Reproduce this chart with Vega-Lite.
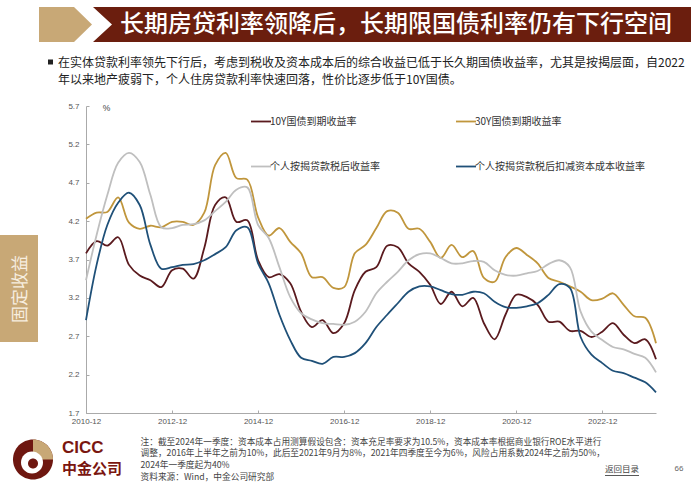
{
"$schema":"https://vega.github.io/schema/vega-lite/v6.json",
"width":570,"height":307,
"autosize":{"type":"none"},
"padding":{"left":86,"top":106,"right":44,"bottom":77},
"background":"white",
"config":{"view":{"stroke":null},"font":"Noto Sans CJK SC"},
"title":{"text":"长期房贷利率领降后，长期限国债利率仍有下行空间","anchor":"start","frame":"group","dx":34,"offset":0,"dy":30,"fontSize":24,"fontWeight":500,"color":"#ffffff","font":"Noto Sans CJK SC","limit":0},
"layer":[
{"data":{"values":[{"part":"标题色块"}]},"mark":{"type":"point","filled":true,"opacity":1,"size":4,"fill":"#c8a876","stroke":null,"shape":"M-332 -252.5 L-297 -252.5 L-279 -235 L-297 -217.5 L-332 -217.5Z M-371 -24.5 L-333 -24.5 L-333 82.5 L-371 82.5Z"},"encoding":{}},
{"data":{"values":[{"part":"标题底"}]},"mark":{"type":"point","filled":true,"opacity":1,"size":4,"fill":"#6b1e0e","stroke":null,"shape":"M-278 -252.5 L320 -252.5 L320 -217.5 L-278 -217.5 L-259 -235Z"},"encoding":{}},
{"data":{"values":[{"part":"项目符号和下划线"}]},"mark":{"type":"point","filled":true,"opacity":1,"size":4,"fill":"#222222","stroke":null,"shape":"M-323 -200 L-318 -200 L-318 -195 L-323 -195Z M234 215.5 L268 215.5 L268 216.3 L234 216.3Z"},"encoding":{}},
{"data":{"values":[{"part":"logo外环"}]},"mark":{"type":"point","filled":true,"opacity":1,"size":4,"fill":"#6e1710","stroke":null,"shape":"M-358 200 A20 20 0 1 1 -318 200 A20 20 0 1 1 -358 200Z"},"encoding":{}},
{"data":{"values":[{"part":"logo扇形"}]},"mark":{"type":"point","filled":true,"opacity":1,"size":4,"fill":"#c8a876","stroke":null,"shape":"M-338 200 L-338 180 A20 20 0 0 1 -318 200Z"},"encoding":{}},
{"data":{"values":[{"part":"logo内白"}]},"mark":{"type":"point","filled":true,"opacity":1,"size":4,"fill":"#ffffff","stroke":null,"shape":"M-350 203 A11 11 0 1 1 -328 203 A11 11 0 1 1 -350 203Z"},"encoding":{}},
{"data":{"values":[{"part":"logo内心"}]},"mark":{"type":"point","filled":true,"opacity":1,"size":4,"fill":"#6e1710","stroke":null,"shape":"M-343 204 A5 5 0 1 1 -333 204 A5 5 0 1 1 -343 204Z"},"encoding":{}},
{"data":{"values":[{"t":"在实体贷款利率领先下行后，考虑到税收及资本成本后的综合收益已低于长久期国债收益率，尤其是按揭层面，自2022"}]},"mark":{"type":"text","align":"left","baseline":"middle","fontSize":12,"color":"#222222","dx":-313,"dy":-197},"encoding":{"text":{"field":"t"}}},
{"data":{"values":[{"t":"年以来地产疲弱下，个人住房贷款利率快速回落，性价比逐步低于10Y国债。"}]},"mark":{"type":"text","align":"left","baseline":"middle","fontSize":12,"color":"#222222","dx":-313,"dy":-180},"encoding":{"text":{"field":"t"}}},
{"data":{"values":[{"t":"固定收益"}]},"mark":{"type":"text","align":"center","baseline":"middle","angle":270,"fontSize":17,"color":"#f7eee0","dx":-29.5,"dy":-350},"encoding":{"text":{"field":"t"}}},
{"data":{"values":[{"t":"CICC"}]},"mark":{"type":"text","align":"left","baseline":"middle","font":"Liberation Sans","fontWeight":"bold","fontSize":17,"color":"#7a1610","dx":-309,"dy":188},"encoding":{"text":{"field":"t"}}},
{"data":{"values":[{"t":"中金公司"}]},"mark":{"type":"text","align":"left","baseline":"middle","fontWeight":"bold","fontSize":15,"color":"#7a1610","dx":-309,"dy":209},"encoding":{"text":{"field":"t"}}},
{"data":{"values":[{"t":"返回目录"}]},"mark":{"type":"text","align":"center","baseline":"middle","fontSize":8.5,"color":"#444444","dx":251,"dy":209.5},"encoding":{"text":{"field":"t"}}},
{"data":{"values":[{"t":"66"}]},"mark":{"type":"text","align":"center","baseline":"middle","font":"Liberation Sans","fontSize":8,"color":"#666666","dx":308,"dy":209.5},"encoding":{"text":{"field":"t"}}},
{"data":{"values":[
{"date":"2010-12-31","10Y":3.78,"30Y":4.23,"m":3.43,"n":2.91},
{"date":"2011-03-31","10Y":3.94,"30Y":4.31,"m":4.02,"n":3.63},
{"date":"2011-06-30","10Y":3.88,"30Y":4.32,"m":4.54,"n":4.15},
{"date":"2011-09-30","10Y":3.99,"30Y":4.51,"m":4.96,"n":4.44},
{"date":"2011-12-31","10Y":3.63,"30Y":4.18,"m":5.09,"n":4.57},
{"date":"2012-03-31","10Y":3.49,"30Y":4.10,"m":4.97,"n":4.41},
{"date":"2012-06-30","10Y":3.43,"30Y":4.14,"m":4.54,"n":3.89},
{"date":"2012-09-30","10Y":3.34,"30Y":4.12,"m":4.12,"n":3.58},
{"date":"2012-12-31","10Y":3.56,"30Y":4.19,"m":4.11,"n":3.60},
{"date":"2013-03-31","10Y":3.58,"30Y":4.19,"m":4.15,"n":3.63},
{"date":"2013-06-30","10Y":3.45,"30Y":4.15,"m":4.16,"n":3.64},
{"date":"2013-09-30","10Y":3.85,"30Y":4.31,"m":4.21,"n":3.69},
{"date":"2013-12-31","10Y":4.41,"30Y":4.93,"m":4.33,"n":3.77},
{"date":"2014-03-31","10Y":4.51,"30Y":5.09,"m":4.45,"n":3.86},
{"date":"2014-06-30","10Y":4.19,"30Y":4.76,"m":4.61,"n":4.08},
{"date":"2014-09-30","10Y":4.21,"30Y":4.74,"m":4.64,"n":4.12},
{"date":"2014-12-31","10Y":3.69,"30Y":4.25,"m":4.15,"n":3.65},
{"date":"2015-03-31","10Y":3.47,"30Y":4.01,"m":3.98,"n":3.39},
{"date":"2015-06-30","10Y":3.51,"30Y":4.11,"m":3.60,"n":2.98},
{"date":"2015-09-30","10Y":3.39,"30Y":3.93,"m":3.21,"n":2.65},
{"date":"2015-12-31","10Y":3.02,"30Y":3.78,"m":3.00,"n":2.42},
{"date":"2016-03-31","10Y":2.82,"30Y":3.47,"m":2.92,"n":2.38},
{"date":"2016-06-30","10Y":2.91,"30Y":3.47,"m":2.87,"n":2.34},
{"date":"2016-09-30","10Y":2.74,"30Y":3.33,"m":2.86,"n":2.43},
{"date":"2016-12-31","10Y":2.87,"30Y":3.34,"m":2.85,"n":2.43},
{"date":"2017-03-31","10Y":3.30,"30Y":3.78,"m":2.89,"n":2.48},
{"date":"2017-06-30","10Y":3.54,"30Y":3.89,"m":3.02,"n":2.61},
{"date":"2017-09-30","10Y":3.60,"30Y":4.11,"m":3.26,"n":2.82},
{"date":"2017-12-31","10Y":3.88,"30Y":4.33,"m":3.41,"n":2.98},
{"date":"2018-03-31","10Y":3.86,"30Y":4.31,"m":3.54,"n":3.13},
{"date":"2018-06-30","10Y":3.65,"30Y":4.10,"m":3.69,"n":3.28},
{"date":"2018-09-30","10Y":3.54,"30Y":4.10,"m":3.77,"n":3.35},
{"date":"2018-12-31","10Y":3.37,"30Y":3.93,"m":3.78,"n":3.35},
{"date":"2019-03-31","10Y":3.12,"30Y":3.72,"m":3.72,"n":3.30},
{"date":"2019-06-30","10Y":3.28,"30Y":3.89,"m":3.65,"n":3.25},
{"date":"2019-09-30","10Y":3.09,"30Y":3.73,"m":3.65,"n":3.24},
{"date":"2019-12-31","10Y":3.20,"30Y":3.81,"m":3.68,"n":3.28},
{"date":"2020-03-31","10Y":2.87,"30Y":3.46,"m":3.67,"n":3.26},
{"date":"2020-06-30","10Y":2.66,"30Y":3.41,"m":3.56,"n":3.15},
{"date":"2020-09-30","10Y":2.98,"30Y":3.73,"m":3.50,"n":3.08},
{"date":"2020-12-31","10Y":3.24,"30Y":3.85,"m":3.49,"n":3.07},
{"date":"2021-03-31","10Y":3.21,"30Y":3.76,"m":3.52,"n":3.09},
{"date":"2021-06-30","10Y":3.11,"30Y":3.65,"m":3.55,"n":3.13},
{"date":"2021-09-30","10Y":2.89,"30Y":3.46,"m":3.64,"n":3.24},
{"date":"2021-12-31","10Y":2.89,"30Y":3.41,"m":3.69,"n":3.38},
{"date":"2022-03-31","10Y":2.77,"30Y":3.35,"m":3.60,"n":3.33},
{"date":"2022-06-30","10Y":2.77,"30Y":3.28,"m":3.02,"n":2.69},
{"date":"2022-09-30","10Y":2.69,"30Y":3.17,"m":2.76,"n":2.46},
{"date":"2022-12-31","10Y":2.76,"30Y":3.19,"m":2.65,"n":2.35},
{"date":"2023-03-31","10Y":2.87,"30Y":3.26,"m":2.56,"n":2.25},
{"date":"2023-06-30","10Y":2.72,"30Y":3.11,"m":2.53,"n":2.22},
{"date":"2023-09-30","10Y":2.61,"30Y":2.96,"m":2.47,"n":2.16},
{"date":"2023-12-31","10Y":2.66,"30Y":2.94,"m":2.42,"n":2.10},
{"date":"2024-03-31","10Y":2.40,"30Y":2.61,"m":2.23,"n":1.97}
]},
"transform":[
{"fold":["10Y","30Y","m","n"],"as":["series","value"]}
],
"mark":{"type":"line","interpolate":"catmull-rom","strokeWidth":1.8},
"encoding":{
"x":{"field":"date","type":"temporal",
"scale":{"domain":["2010-12-31","2024-03-31"]},
"axis":{"format":"%Y-%m","values":["2010-12-31","2012-12-31","2014-12-31","2016-12-31","2018-12-31","2020-12-31","2022-12-31"],
"labelFont":"Liberation Sans","labelFontSize":8,"labelColor":"#555555","labelPadding":7,"labelFlush":false,"labelOverlap":false,
"domainColor":"#aaaaaa","tickColor":"#aaaaaa","tickSize":-3,"grid":false,
"title":["注：截至2024年一季度：资本成本占用测算假设包含：资本充足率要求为10.5%，资本成本率根据商业银行ROE水平进行","调整，2016年上半年之前为10%，此后至2021年9月为8%，2021年四季度至今为6%，风险占用系数2024年之前为50%，","2024年一季度起为40%","资料来源：Wind，中金公司研究部"],
"titleFont":"Noto Sans CJK SC","titleFontSize":8.7,"titleFontWeight":"normal","titleColor":"#444444","titleAlign":"left","titleAnchor":"start","titleBaseline":"top","titleX":54,"titleY":24,"titleLineHeight":11.7}},
"y":{"field":"value","type":"quantitative",
"scale":{"domain":[1.7,5.7],"nice":false,"zero":false},
"axis":{"values":[1.7,2.2,2.7,3.2,3.7,4.2,4.7,5.2,5.7],"format":".1f",
"labelFont":"Liberation Sans","labelFontSize":8,"labelColor":"#555555","labelPadding":10,
"domainColor":"#aaaaaa","tickColor":"#aaaaaa","tickSize":-3,"grid":false,
"title":"%","titleFont":"Liberation Sans","titleFontSize":8.5,"titleFontWeight":"normal","titleColor":"#444444","titleAngle":0,"titleAlign":"center","titleBaseline":"middle","titleX":20,"titleY":1}},
"color":{"field":"series","type":"nominal",
"scale":{"domain":["10Y","30Y","m","n"],"range":["#5a1a1e","#c0963c","#bfbfbf","#1f5078"]},
"legend":{"orient":"none","legendX":164,"legendY":4.5,"columns":2,"direction":"horizontal","title":null,"symbolType":"stroke","symbolSize":400,"symbolStrokeWidth":1.8,"labelFont":"Noto Sans CJK SC","labelFontSize":10,"labelColor":"#333333","labelOffset":-2,"labelLimit":0,"rowPadding":29,"columnPadding":72,
"labelExpr":"{'10Y':'10Y国债到期收益率','30Y':'30Y国债到期收益率','m':'个人按揭贷款税后收益率','n':'个人按揭贷款税后扣减资本成本收益率'}[datum.label]"}}
}}
]}
